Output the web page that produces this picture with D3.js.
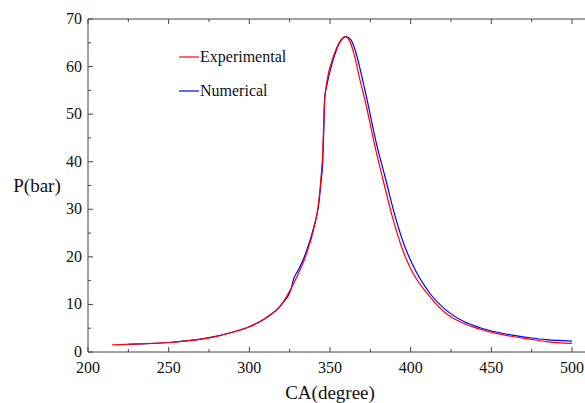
<!DOCTYPE html>
<html>
<head>
<meta charset="utf-8">
<script src="https://cdn.jsdelivr.net/npm/d3@7"></script>
<style>
  body { margin: 0; background: #fff; }
</style>
</head>
<body>
<div id="chart"></div>
<script>
// crank angle (deg) and pressure (bar)
const caExp = [215, 230, 250, 260, 270, 280, 290, 300, 310, 320, 325, 330, 335, 340, 343, 344.5, 345.5, 346, 346.5, 347.5, 349, 352, 356, 359.5, 362, 365, 368, 372, 378, 383, 389, 395, 400, 412, 422, 433, 443, 453, 464, 474, 484, 500];
const pExp  = [1.5, 1.7, 2.0, 2.3, 2.7, 3.3, 4.2, 5.3, 7.1, 10.0, 12.8, 16.2, 20.3, 26.0, 31.5, 37, 42, 47, 52, 55.5, 58.5, 62, 65.2, 66.3, 65.5, 62.5, 58, 52.5, 43, 36, 28, 21.5, 17.5, 11.6, 8.1, 6.0, 4.8, 3.9, 3.2, 2.7, 2.2, 1.8];

const caNum = [225, 250, 270, 290, 300, 310, 320, 326, 327.5, 330, 335, 340, 343, 344.5, 345.5, 346.2, 346.7, 348, 350, 353, 356, 360, 363, 366, 369, 373, 379, 384, 390, 396, 401, 412, 422, 433, 443, 453, 464, 474, 484, 500];
const pNum  = [1.6, 2.0, 2.7, 4.2, 5.3, 7.1, 10.0, 13.4, 15.4, 17.0, 20.8, 26.3, 31, 36, 40, 47, 53.5, 56, 59, 62.5, 65, 66.3, 65.6, 63, 59, 53, 43.5, 37, 29, 22.5, 18.5, 12.3, 8.8, 6.4, 5.1, 4.2, 3.5, 3.0, 2.6, 2.3];

const xTicks = [200, 250, 300, 350, 400, 450, 500];
const yTicks = [0, 10, 20, 30, 40, 50, 60, 70];
const legendNames = ["Experimental", "Numerical"];
const legendColors = ["#ff0000", "#0000ff"];

const width = 585, height = 403;
const margin = {top: 19, left: 88};
const innerW = 484, innerH = 333;
const serif = "Liberation Serif";

const svg = d3.select("#chart")
    .append("svg")
    .attr("width", width)
    .attr("height", height)
    .attr("font-family", serif);

const g = svg.append("g")
    .attr("transform", `translate(${margin.left}, ${margin.top})`);

const x = d3.scaleLinear().domain([200, 500]).range([0, innerW]);
const y = d3.scaleLinear().domain([0, 70]).range([innerH, 0]);

const axisColor = "#444";

// frame (right side runs off the picture, like the original)
const xEnd = x(510);
g.append("line").attr("x1", 0).attr("x2", xEnd).attr("y1", innerH).attr("y2", innerH).attr("stroke", axisColor);
g.append("line").attr("x1", 0).attr("x2", xEnd).attr("y1", 0).attr("y2", 0).attr("stroke", axisColor);
g.append("line").attr("x1", 0).attr("x2", 0).attr("y1", 0).attr("y2", innerH).attr("stroke", axisColor);

// x ticks (inward), major + minor, bottom and top
const xMinor = d3.range(225, 500, 50);
function xTickMarks(vals, len) {
  g.selectAll(null).data(vals).enter().append("line")
      .attr("x1", d => x(d)).attr("x2", d => x(d))
      .attr("y1", innerH).attr("y2", innerH - len)
      .attr("stroke", axisColor);
  g.selectAll(null).data(vals).enter().append("line")
      .attr("x1", d => x(d)).attr("x2", d => x(d))
      .attr("y1", 0).attr("y2", len)
      .attr("stroke", axisColor);
}
xTickMarks(xTicks, 5);
xTickMarks(xMinor, 3);

const yMinor = d3.range(5, 70, 10);
g.selectAll(null).data(yTicks).enter().append("line")
    .attr("x1", 0).attr("x2", 5)
    .attr("y1", d => y(d)).attr("y2", d => y(d))
    .attr("stroke", axisColor);
g.selectAll(null).data(yMinor).enter().append("line")
    .attr("x1", 0).attr("x2", 3)
    .attr("y1", d => y(d)).attr("y2", d => y(d))
    .attr("stroke", axisColor);

// tick labels
g.selectAll(null).data(xTicks).enter().append("text")
    .attr("x", d => x(d))
    .attr("y", innerH + 21)
    .attr("text-anchor", "middle")
    .attr("font-family", serif)
    .attr("font-size", 16)
    .attr("fill", "#111")
    .text(d => d);

g.selectAll(null).data(yTicks).enter().append("text")
    .attr("x", -6)
    .attr("y", d => y(d) + 5)
    .attr("text-anchor", "end")
    .attr("font-family", serif)
    .attr("font-size", 16)
    .attr("fill", "#111")
    .text(d => d);

// axis titles
svg.append("text")
    .attr("x", 37).attr("y", 192)
    .attr("text-anchor", "middle")
    .attr("font-family", serif)
    .attr("font-size", 19)
    .attr("fill", "#111")
    .text("P(bar)");

svg.append("text")
    .attr("x", 330).attr("y", 399)
    .attr("text-anchor", "middle")
    .attr("font-family", serif)
    .attr("font-size", 19)
    .attr("fill", "#111")
    .text("CA(degree)");

// curves
const line = d3.line().x(d => x(d[0])).y(d => y(d[1])).curve(d3.curveMonotoneX);

g.append("path")
    .datum(d3.zip(caNum, pNum))
    .attr("d", line)
    .attr("fill", "none")
    .attr("stroke", legendColors[1])
    .attr("stroke-width", 1.2);

g.append("path")
    .datum(d3.zip(caExp, pExp))
    .attr("d", line)
    .attr("fill", "none")
    .attr("stroke", legendColors[0])
    .attr("stroke-width", 1.2);

// legend
const legend = svg.append("g").attr("transform", "translate(179, 57)");
legendNames.forEach((name, i) => {
  legend.append("line")
      .attr("x1", 0).attr("x2", 20)
      .attr("y1", i * 34).attr("y2", i * 34)
      .attr("stroke", legendColors[i])
      .attr("stroke-width", 1.2);
  legend.append("text")
      .attr("x", 21).attr("y", i * 34 + 5)
      .attr("font-family", serif)
      .attr("font-size", 16)
      .attr("fill", "#111")
      .text(name);
});
</script>
</body>
</html>
